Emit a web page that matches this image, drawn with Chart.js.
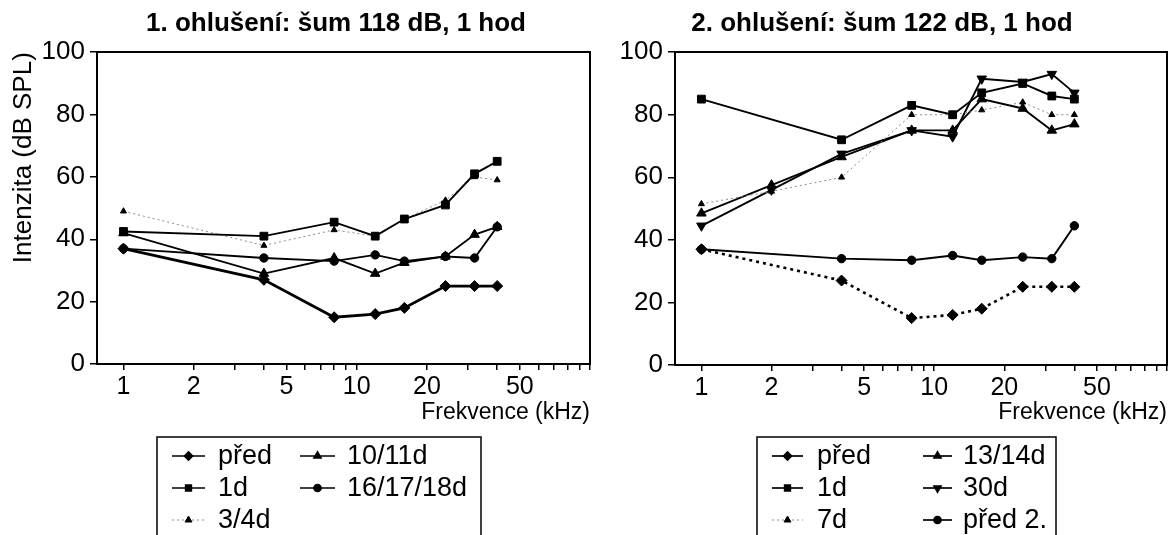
<!DOCTYPE html>
<html>
<head>
<meta charset="utf-8">
<script src="https://cdn.jsdelivr.net/npm/chart.js@4/dist/chart.umd.min.js"></script>
<style>
  html, body { margin: 0; padding: 0; background: #fff; }
  #wrap { position: relative; width: 1174px; height: 535px; overflow: hidden; background: #fff; }
  #wrap canvas { position: absolute; top: 0; }
  #c1 { left: 0; }
  #c2 { left: 590px; }
</style>
</head>
<body>
<div id="wrap">
  <canvas id="c1" width="672" height="535"></canvas>
  <canvas id="c2" width="584" height="535"></canvas>
</div>
<script>
// ---- first exposure: noise 118 dB, 1 hour ----
const FREQ_A = [1, 4, 8, 12, 16, 24, 32, 40];
const A_PRED = [37, 27, 15, 16, 18, 25, 25, 25];
const A_1D = [42.5, 41, 45.5, 41, 46.5, 51, 61, 65];
const A_3_4D = [49, 38, 43, 41, 46.5, 52.5, 60, 59];
const A_10_11D = [42, 29, 34, 29, 32.5, 34.5, 41.5, 44];
const A_16_18D = [37, 34, 33, 35, 33, 34.5, 34, 44];

// ---- second exposure: noise 122 dB, 1 hour ----
const FREQ_B = [1, 2, 4, 8, 12, 16, 24, 32, 40];
const B_PRED = [37, null, 27, 15, 16, 18, 25, 25, 25];
const B_1D = [85, null, 72, 83, 80, 87, 90, 86, 85];
const B_7D = [51.5, 55.5, 60, 80, 80, 81.5, 84, 80, 80];
const B_13_14D = [48.5, 57.5, 66.5, 75, 75, 85, 82, 75, 77];
const B_30D = [44.5, 56, 67.5, 75, 73, 91.5, 90.5, 93, 87];
const B_PRED2 = [37, null, 34, 33.5, 35, 33.5, 34.5, 34, 44.5];

// ---- axis ticks ----
const X_TICKS = [1, 2, 3, 4, 5, 6, 7, 8, 9, 10, 20, 30, 40, 50, 60, 70, 80, 90, 100];
const X_LABELS = [1, 2, 5, 10, 20, 50];
const Y_LABEL_STEP = 20;

const TITLE_A = '1. ohlušení: šum 118 dB, 1 hod';
const TITLE_B = '2. ohlušení: šum 122 dB, 1 hod';
const X_TITLE = 'Frekvence (kHz)';
const Y_TITLE = 'Intenzita (dB SPL)';

Chart.defaults.font.family = '"Liberation Sans", Arial, Helvetica, sans-serif';
Chart.defaults.color = '#000';

const BLACK = '#000';
const GREY = '#8a8a8a';

function series(label, data, style) {
  return Object.assign({
    label, data,
    borderColor: BLACK, backgroundColor: BLACK,
    pointBackgroundColor: BLACK, pointBorderColor: BLACK,
    borderWidth: 1.9, pointBorderWidth: 1,
    tension: 0, spanGaps: true, fill: false
  }, style);
}

const DIAMOND = { pointStyle: 'rectRot', pointRadius: 5.5 };
const SQUARE = { pointStyle: 'rect', pointRadius: 5.5 };
const TRI = { pointStyle: 'triangle', pointRadius: 5.5 };
const TRI_DOWN = { pointStyle: 'triangle', pointRadius: 5.5, pointRotation: 180 };
const DOT = { pointStyle: 'circle', pointRadius: 4.2 };
const SMALL_TRI = { pointStyle: 'triangle', pointRadius: 3.5, borderColor: GREY,
                    borderWidth: 1, borderDash: [2, 3], legendDash: [2, 3] };

// framed legend laid out in columns, drawn under the plot
const boxLegend = {
  id: 'boxLegend',
  afterDraw(chart, args, opts) {
    const ctx = chart.ctx;
    ctx.save();
    ctx.lineWidth = 1.5;
    ctx.strokeStyle = BLACK;
    ctx.strokeRect(opts.left, opts.top, opts.width, 200);
    ctx.font = '27px "Liberation Sans", Arial, sans-serif';
    ctx.textBaseline = 'middle';
    ctx.textAlign = 'left';
    chart.data.datasets.forEach((ds, i) => {
      const col = opts.columns[Math.floor(i / opts.rows)];
      const y = opts.firstRow + (i % opts.rows) * opts.rowGap;
      ctx.beginPath();
      ctx.setLineDash(ds.legendDash || []);
      ctx.strokeStyle = ds.borderColor;
      ctx.lineWidth = ds.legendDash ? 1 : 1.7;
      ctx.moveTo(col.from, y);
      ctx.lineTo(col.to, y);
      ctx.stroke();
      ctx.setLineDash([]);
      ctx.fillStyle = BLACK;
      ctx.strokeStyle = BLACK;
      Chart.helpers.drawPoint(ctx, {
        pointStyle: ds.pointStyle,
        rotation: ds.pointRotation || 0,
        radius: ds.pointStyle === 'circle' ? 3.5 : 4,
        borderWidth: 1
      }, (col.from + col.to) / 2, y);
      ctx.fillText(ds.label, col.text, y + 1);
    });
    ctx.restore();
  }
};

function makeOptions(cfg) {
  return {
    responsive: false,
    animation: false,
    devicePixelRatio: 1,
    layout: { padding: 0 },
    plugins: {
      legend: { display: false },
      tooltip: { enabled: false },
      title: {
        display: true, text: cfg.title, color: BLACK,
        font: { size: 26, weight: 'bold' },
        padding: { top: 8, bottom: 13 }
      },
      boxLegend: cfg.legend
    },
    scales: {
      x: {
        type: 'logarithmic', position: 'bottom', min: 0.77, max: 100,
        afterBuildTicks: s => { s.ticks = X_TICKS.map(v => ({ value: v })); },
        afterFit: s => { s.height = cfg.bottomHeight; },
        border: { color: BLACK, width: 2 },
        grid: { drawOnChartArea: false, drawTicks: true, tickLength: 6, color: BLACK, lineWidth: 1.5 },
        ticks: {
          autoSkip: false, maxRotation: 0, minRotation: 0, padding: 2, color: BLACK,
          font: { size: 25 },
          callback: v => X_LABELS.includes(v) ? String(v) : ''
        },
        title: {
          display: true, text: X_TITLE, align: 'end', color: BLACK,
          font: { size: 23 }, padding: { top: 0, bottom: 109 }
        }
      },
      y: {
        type: 'linear', position: 'left', min: 0, max: 100,
        afterFit: s => { s.width = cfg.leftWidth; },
        border: { color: BLACK, width: 2 },
        grid: { drawOnChartArea: false, drawTicks: true, tickLength: 7, color: BLACK, lineWidth: 1.5 },
        ticks: {
          stepSize: 10, padding: 5, color: BLACK, font: { size: 26 },
          callback: v => v % Y_LABEL_STEP === 0 ? String(v) : ''
        },
        title: {
          display: cfg.yTitle, text: Y_TITLE, color: BLACK, align: 'end',
          font: { size: 26 }, padding: { top: 8, bottom: 0 }
        }
      },
      frameRight: {
        type: 'linear', position: 'right', min: 0, max: 1,
        afterFit: s => { s.width = cfg.rightWidth; },
        border: { display: true, color: BLACK, width: 2 },
        grid: { display: false },
        ticks: { display: false }
      },
      frameTop: {
        type: 'linear', position: 'top', axis: 'x', min: 0, max: 1,
        afterFit: s => { s.height = 0; },
        border: { display: true, color: BLACK, width: 2 },
        grid: { display: false },
        ticks: { display: false }
      }
    }
  };
}

new Chart(document.getElementById('c1'), {
  type: 'line',
  data: {
    labels: FREQ_A,
    datasets: [
      series('před', A_PRED, Object.assign({}, DIAMOND, { borderWidth: 2.8 })),
      series('1d', A_1D, SQUARE),
      series('3/4d', A_3_4D, SMALL_TRI),
      series('10/11d', A_10_11D, TRI),
      series('16/17/18d', A_16_18D, DOT)
    ]
  },
  options: makeOptions({
    title: TITLE_A, yTitle: true, leftWidth: 97, rightWidth: 82, bottomHeight: 171,
    legend: {
      left: 157, top: 437, width: 324, rows: 3, firstRow: 456, rowGap: 32,
      columns: [{ from: 172, to: 205, text: 218 }, { from: 300, to: 335, text: 347 }]
    }
  }),
  plugins: [boxLegend]
});

new Chart(document.getElementById('c2'), {
  type: 'line',
  data: {
    labels: FREQ_B,
    datasets: [
      series('před', B_PRED, Object.assign({}, DIAMOND, { borderWidth: 2.6, borderDash: [3, 4] })),
      series('1d', B_1D, SQUARE),
      series('7d', B_7D, SMALL_TRI),
      series('13/14d', B_13_14D, TRI),
      series('30d', B_30D, TRI_DOWN),
      series('před 2.', B_PRED2, DOT)
    ]
  },
  options: makeOptions({
    title: TITLE_B, yTitle: false, leftWidth: 85, rightWidth: 7, bottomHeight: 170,
    legend: {
      left: 167, top: 437, width: 299, rows: 3, firstRow: 456, rowGap: 32,
      columns: [{ from: 182, to: 213, text: 227 }, { from: 333, to: 362, text: 373 }]
    }
  }),
  plugins: [boxLegend]
});
</script>
</body>
</html>
